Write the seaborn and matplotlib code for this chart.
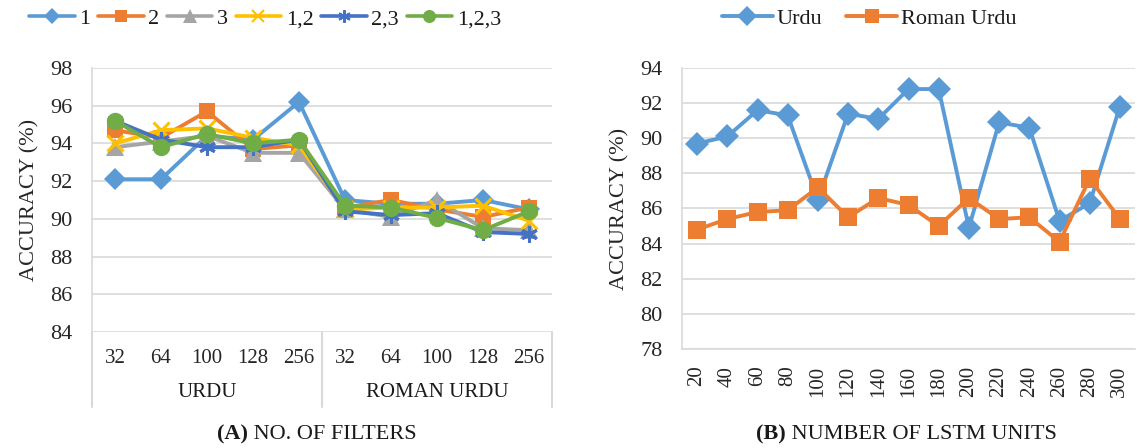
import numpy as np
import pandas as pd
import seaborn as sns
import matplotlib
matplotlib.use("Agg")
import matplotlib.pyplot as plt
from matplotlib.lines import Line2D

# ---- data -------------------------------------------------------------
filters = ["32", "64", "100", "128", "256", "32", "64", "100", "128", "256"]
groups = ["URDU", "ROMAN URDU"]
series_names = ["1", "2", "3", "1,2", "2,3", "1,2,3"]
acc_1 = [92.1, 92.1, 94.4, 94.2, 96.2, 91.0, 90.8, 90.8, 91.0, 90.5]
acc_2 = [94.7, 94.3, 95.7, 93.7, 93.9, 90.6, 91.0, 90.5, 90.1, 90.6]
acc_3 = [93.8, 94.1, 94.4, 93.5, 93.5, 90.5, 90.1, 91.0, 89.5, 89.4]
acc_12 = [94.0, 94.7, 94.8, 94.3, 93.9, 90.5, 90.6, 90.6, 90.7, 89.9]
acc_23 = [95.2, 94.2, 93.8, 93.8, 94.2, 90.4, 90.2, 90.3, 89.3, 89.2]
acc_123 = [95.2, 93.8, 94.5, 94.0, 94.2, 90.7, 90.6, 90.05, 89.4, 90.4]

lstm_units = ["20", "40", "60", "80", "100", "120", "140", "160", "180",
              "200", "220", "240", "260", "280", "300"]
urdu_acc = [89.7, 90.1, 91.6, 91.3, 86.5, 91.4, 91.1, 92.8, 92.8,
            84.9, 90.9, 90.6, 85.3, 86.3, 91.8]
roman_acc = [84.8, 85.4, 85.8, 85.9, 87.2, 85.5, 86.6, 86.2, 85.0,
             86.6, 85.4, 85.5, 84.1, 87.7, 85.4]

# ---- style ------------------------------------------------------------
sns.set_theme(style="white")
plt.rcParams["font.family"] = ["Liberation Serif", "DejaVu Serif"]
plt.rcParams["text.color"] = "#1a1a1a"

FS = 16
GRID = "#d9d9d9"
colors = ["#5B9BD5", "#ED7D31", "#A5A5A5", "#FFC000", "#4472C4", "#70AD47"]
markers = ["D", "s", "^", "x", (6, 2, 0), "o"]
msizes = [11.5, 12, 12.5, 11, 12, 12.5]

fig = plt.figure(figsize=(11.37, 4.48), dpi=100)
axA = fig.add_axes([92 / 1137, 1 - 332 / 448, (552 - 92) / 1137, (332 - 68) / 448])
axB = fig.add_axes([682 / 1137, 1 - 349 / 448, (1135 - 682) / 1137, (349 - 68) / 448])

# ---- panel A: number of filters --------------------------------------
posA = np.arange(len(filters))
seriesA = [acc_1, acc_2, acc_3, acc_12, acc_23, acc_123]
handlesA = []
for i, (name, vals) in enumerate(zip(series_names, seriesA)):
    df = pd.DataFrame({"pos": posA, "acc": vals})
    mew = 2.2 if i in (3, 4) else 0
    sns.lineplot(data=df, x="pos", y="acc", ax=axA, color=colors[i],
                 linewidth=2.8, marker=markers[i], markersize=msizes[i],
                 markeredgewidth=mew, markeredgecolor=colors[i],
                 zorder=3 + i, legend=False)
    handlesA.append(Line2D([], [], color=colors[i], linewidth=2.6,
                           marker=markers[i], markersize=msizes[i] * 0.75,
                           markeredgewidth=mew * 0.7, markeredgecolor=colors[i],
                           label=name))

axA.set_xlim(-0.5, len(filters) - 0.5)
axA.set_ylim(84, 98)
axA.set_yticks(np.arange(84, 99, 2))
axA.set_xticks(posA)
axA.set_xticklabels(filters, fontsize=FS - 1)
axA.tick_params(axis="x", length=0, pad=12)
axA.tick_params(axis="y", length=0, pad=14, labelsize=FS)
axA.yaxis.grid(True, color=GRID, linewidth=1.2)
axA.set_axisbelow(True)
for s in ["top", "right", "bottom"]:
    axA.spines[s].set_visible(False)
axA.spines["left"].set_color(GRID)
axA.spines["left"].set_linewidth(1.2)
axA.set_ylabel("ACCURACY (%)", fontsize=FS, labelpad=8)
axA.set_xlabel("")

# group separators and group names below the category axis
trA = axA.get_xaxis_transform()
for xs in [-0.5, 4.5, 9.5]:
    axA.add_line(Line2D([xs, xs], [0, -0.284], transform=trA, color=GRID,
                        linewidth=1.5, clip_on=False))
for gi, g in enumerate(groups):
    axA.text(gi * 5 + 2, -0.228, g, transform=trA, ha="center", va="center",
             fontsize=FS - 1)

fig.legend(handles=handlesA, loc="center", ncol=6, frameon=False,
           bbox_to_anchor=(265 / 1137, 1 - 19 / 448), fontsize=FS,
           handlelength=2.05, columnspacing=0.35, handletextpad=0.2,
           borderaxespad=0, borderpad=0)

# ---- panel B: number of LSTM units -----------------------------------
posB = np.arange(len(lstm_units))
handlesB = []
for i, (name, vals, col, mk, ms) in enumerate(zip(
        ["Urdu", "Roman Urdu"], [urdu_acc, roman_acc],
        ["#5B9BD5", "#ED7D31"], ["D", "s"], [12.5, 13])):
    df = pd.DataFrame({"pos": posB, "acc": vals})
    sns.lineplot(data=df, x="pos", y="acc", ax=axB, color=col, linewidth=2.8,
                 marker=mk, markersize=ms, markeredgewidth=0, zorder=3 + i,
                 legend=False)
    handlesB.append(Line2D([], [], color=col, linewidth=2.8, marker=mk,
                           markersize=ms * 0.8, markeredgewidth=0, label=name))

axB.set_xlim(-0.5, len(lstm_units) - 0.5)
axB.set_ylim(78, 94)
axB.set_yticks(np.arange(78, 95, 2))
axB.set_xticks(posB)
axB.set_xticklabels(lstm_units, rotation=90, fontsize=FS - 1)
axB.tick_params(axis="x", length=0, pad=12)
axB.tick_params(axis="y", length=0, pad=14, labelsize=FS)
axB.yaxis.grid(True, color=GRID, linewidth=1.2)
axB.set_axisbelow(True)
for s in ["top", "right"]:
    axB.spines[s].set_visible(False)
for s in ["left", "bottom"]:
    axB.spines[s].set_color(GRID)
    axB.spines[s].set_linewidth(1.2)
axB.set_ylabel("ACCURACY (%)", fontsize=FS, labelpad=8)
axB.set_xlabel("")

fig.legend(handles=handlesB, loc="center", ncol=2, frameon=False,
           bbox_to_anchor=(869 / 1137, 1 - 19 / 448), fontsize=FS,
           handlelength=2.3, columnspacing=1.1, handletextpad=0.15,
           borderaxespad=0, borderpad=0)

# ---- panel captions ---------------------------------------------------
tA = fig.text(217 / 1137, 1 - 434 / 448, "(A)", fontsize=FS,
              fontweight="bold", ha="left", va="center")
axA.annotate(" NO. OF FILTERS", xy=(1, 0.5), xycoords=tA, ha="left",
             va="center", fontsize=FS, annotation_clip=False)
tB = fig.text(756 / 1137, 1 - 434 / 448, "(B)", fontsize=FS,
              fontweight="bold", ha="left", va="center")
axB.annotate(" NUMBER OF LSTM UNITS", xy=(1, 0.5), xycoords=tB, ha="left",
             va="center", fontsize=FS, annotation_clip=False)

fig.savefig("out.png", dpi=100)
